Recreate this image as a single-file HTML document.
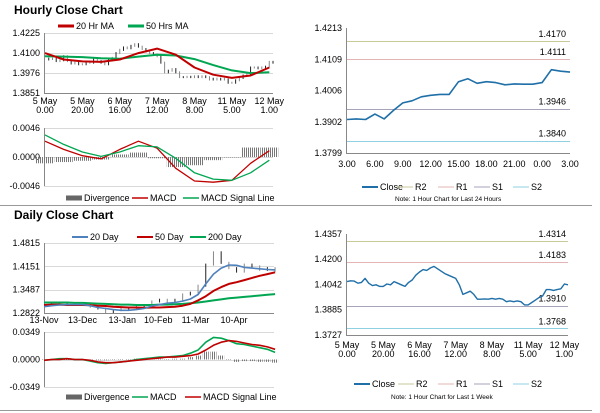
<!DOCTYPE html>
<html><head><meta charset="utf-8"><style>
html,body{margin:0;padding:0;background:#fff;}
svg{display:block;font-family:"Liberation Sans",sans-serif;}
</style></head><body>
<svg id="c" width="600" height="413" viewBox="0 0 600 413">
<defs><pattern id="hatch" width="2" height="4" patternUnits="userSpaceOnUse"><rect width="1" height="4" fill="#777"/></pattern></defs>
</svg>
<script>
// ---------- DATA ----------
const weekLabels1 = ["5 May","5 May","6 May","7 May","8 May","11 May","12 May"];
const weekLabels2 = ["0.00","20.00","16.00","12.00","8.00","5.00","1.00"];
const weekClose = [1.4060,1.4065,1.4063,1.4050,1.4055,1.4080,1.4050,1.4035,1.4040,1.4030,
 1.4030,1.4045,1.4040,1.4060,1.4050,1.4040,1.4030,1.4055,1.4070,1.4100,
 1.4120,1.4135,1.4130,1.4145,1.4155,1.4140,1.4125,1.4110,1.4100,1.4090,
 1.4080,1.4040,1.3980,1.3990,1.4000,1.3980,1.3950,1.3950,1.3952,1.3950,
 1.3955,1.3950,1.3955,1.3950,1.3935,1.3940,1.3935,1.3940,1.3935,1.3915,
 1.3915,1.3930,1.3945,1.3960,1.3970,1.4010,1.4010,1.4005,1.4010,1.4015,1.4045,1.4040];
const hrMA20 = [1.4100,1.4060,1.4048,1.4045,1.4060,1.4100,1.4128,1.4090,1.4010,1.3965,1.3945,1.3960,1.4010];
const hrMA50 = [1.4080,1.4078,1.4075,1.4068,1.4065,1.4078,1.4090,1.4085,1.4062,1.4025,1.3992,1.3975,1.3980];
const hrMacd = [0.0025,0.0012,0.0002,-0.0003,0.0012,0.0025,0.0014,-0.0018,-0.0038,-0.0040,-0.0037,-0.0010,0.0010];
const hrSignal = [0.0035,0.0020,0.0008,0.0001,0.0008,0.0018,0.0016,-0.0002,-0.0025,-0.0035,-0.0037,-0.0025,-0.0005];
const hrPriceTicks = [1.4225,1.4100,1.3976,1.3851];
const hrMacdTicks = [0.0046,0.0000,-0.0046];

const dayLabels = ["13-Nov","13-Dec","13-Jan","10-Feb","11-Mar","10-Apr"];
const dayLabelPos = [0,30,61,89,118,148];
const dayClose = [1.305,1.310,1.312,1.308,1.305,1.305,1.300,1.295,1.285,1.290,1.295,1.295,1.300,1.305,1.315,1.320,1.315,1.320,1.335,1.340,1.360,1.420,1.455,1.425,1.410,1.400,1.420,1.415,1.405,1.410,1.402];
const dayMA20 = [1.300,1.303,1.305,1.306,1.306,1.306,1.303,1.298,1.295,1.292,1.290,1.290,1.292,1.295,1.302,1.306,1.310,1.312,1.316,1.322,1.335,1.365,1.393,1.410,1.419,1.418,1.412,1.410,1.408,1.406,1.405];
const dayMA50 = [1.305,1.306,1.306,1.305,1.305,1.305,1.304,1.303,1.302,1.300,1.299,1.298,1.298,1.297,1.298,1.298,1.299,1.300,1.303,1.308,1.318,1.330,1.345,1.356,1.365,1.370,1.376,1.382,1.388,1.393,1.398];
const dayMA200 = [1.312,1.312,1.312,1.312,1.311,1.311,1.310,1.309,1.308,1.307,1.306,1.306,1.305,1.305,1.305,1.306,1.306,1.307,1.308,1.310,1.312,1.315,1.318,1.321,1.324,1.326,1.328,1.330,1.332,1.334,1.336];
const dayMacd = [-0.001,0.000,0.001,0.001,0.000,0.000,-0.002,-0.004,-0.005,-0.004,-0.003,-0.002,0.000,0.001,0.002,0.003,0.003,0.004,0.005,0.008,0.012,0.022,0.028,0.027,0.024,0.020,0.019,0.017,0.015,0.013,0.009];
const daySignal = [-0.001,0.000,0.000,0.001,0.000,0.000,-0.001,-0.003,-0.004,-0.004,-0.003,-0.002,-0.001,0.000,0.001,0.002,0.003,0.003,0.004,0.005,0.007,0.012,0.018,0.022,0.024,0.023,0.021,0.019,0.018,0.016,0.013];
const dayPriceTicks = [1.4815,1.4151,1.3487,1.2822];
const dayMacdTicks = [0.0349,0.0000,-0.0349];

const h24Labels = ["3.00","6.00","9.00","12.00","15.00","18.00","21.00","0.00","3.00"];
const h24Close = [1.3910,1.3912,1.3910,1.3928,1.3912,1.3940,1.3965,1.3972,1.3985,1.3990,1.3993,1.3993,1.4035,1.4045,1.4030,1.4035,1.4032,1.4025,1.4028,1.4027,1.4027,1.4032,1.4075,1.4070,1.4067];
const h24Ticks = [1.4213,1.4109,1.4006,1.3902,1.3799];
const h24Levels = [1.4170,1.4111,1.3946,1.3840];
const wkTicks = [1.4357,1.4200,1.4042,1.3885,1.3727];
const wkLevels = [1.4314,1.4183,1.3910,1.3768];
const levelNames = ["R2","R1","S1","S2"];
const levelColors = ["#c9c99b","#e2b4b4","#a9a2bb","#8fd0e3"];

// ---------- HELPERS ----------
const svg = document.getElementById('c');
const NS = 'http://www.w3.org/2000/svg';
function mk(tag, at, parent){const e=document.createElementNS(NS,tag);for(const k in at)e.setAttribute(k,at[k]);(parent||svg).appendChild(e);return e;}
function txt(x,y,s,size,anchor,weight,name){const t=mk('text',{x:x,y:y,'font-size':size,'text-anchor':anchor||'start','font-weight':weight||'normal',fill:'#000'});t.textContent=s;


return t;}
function lin(d0,d1,r0,r1){return v=>r0+(v-d0)/(d1-d0)*(r1-r0);}
function poly(pts,color,w,name){const p=mk('polyline',{points:pts.map(q=>q[0].toFixed(1)+','+q[1].toFixed(1)).join(' '),fill:'none',stroke:color,'stroke-width':w,'stroke-linejoin':'round'});


return p;}
function hline(x0,x1,y,color,name){const l=mk('line',{x1:x0,x2:x1,y1:y,y2:y,stroke:color,'stroke-width':1});


return l;}
function yAxis(ticks,y,x0,x1,fmt,grid,name){
 ticks.forEach(t=>{ if(grid) hline(x0,x1,Math.round(y(t))+0.5,'#d9d9d9',name+'-grid');
  txt(x0-4,y(t)+3,fmt(t),9,'end','normal',name+'-tick-label');});
 const a=mk('line',{x1:x0+0.5,x2:x0+0.5,y1:y(ticks[0]),y2:y(ticks[ticks.length-1]),stroke:'#888'});
 
 
}
function legendLine(x,y,color,label,w,len,name){const l=mk('line',{x1:x,x2:x+len,y1:y,y2:y,stroke:color,'stroke-width':w});
 
 
 txt(x+len+2,y+3,label,9,'start','normal',name+'-label');}
function candles(data,x,y,name){
 for(let i=1;i<data.length;i++){const a=y(data[i-1]),b=y(data[i]);
  const r=mk('rect',{x:x(i)-0.5,y:Math.min(a,b)-1,width:1,height:Math.abs(a-b)+2,fill:i%2?'#222':'#888'});
  
  }
}
function divergence(m,s,x,y,step,name){
 for(let i=0;i<m.length;i++){const d=m[i]-s[i];const y0=y(0),y1=y(d);
  const r=mk('rect',{x:x(i)-step/2,y:Math.min(y0,y1),width:step,height:Math.max(0.5,Math.abs(y1-y0)),fill:'url(#hatch)'});
  
  }
}
const f4=v=>v.toFixed(4);

// dividers
hline(0,592,205.5,'#999','section-divider');
hline(0,592,410.5,'#999','bottom-divider');

// ---------- HOURLY CLOSE CHART ----------
txt(14,14,'Hourly Close Chart',12,'start','bold','hourly-title');
legendLine(58,26,'#c00000','20 Hr MA',3,16,'legend-20hr-ma');
legendLine(128,26,'#00a651','50 Hrs MA',3,16,'legend-50hrs-ma');
{const x=lin(0,61,45,273), y=lin(1.4225,1.3851,33,93);
 yAxis(hrPriceTicks,y,44,273,f4,true,'hourly-price-axis');
 hline(44,273,93.5,'#888','hourly-x-axis');
 weekLabels1.forEach((l,i)=>{txt(x(i*10),104,l,9,'middle','normal','hourly-x-label');txt(x(i*10),113,weekLabels2[i],9,'middle','normal','hourly-x-label');});
 candles(weekClose,x,y,'hourly-candle');
 const xm=i=>x(i*5);
 poly(hrMA50.map((v,i)=>[xm(i),y(v)]),'#00a651',2,'hourly-50hrs-ma-line');
 poly(hrMA20.map((v,i)=>[xm(i),y(v)]),'#c00000',2,'hourly-20hr-ma-line');
 const ym=lin(0.0046,-0.0046,128,186);
 yAxis(hrMacdTicks,ym,44,273,f4,true,'hourly-macd-axis');
 divergence(hrMacd,hrSignal,xm,ym,18,'hourly-divergence-bar');
 poly(hrMacd.map((v,i)=>[xm(i),ym(v)]),'#c00000',1.3,'hourly-macd-line');
 poly(hrSignal.map((v,i)=>[xm(i),ym(v)]),'#00a651',1.3,'hourly-signal-line');
 legendLine(66,198,'#666','Divergence',5,16,'legend-hourly-divergence');
 legendLine(132,198,'#c00000','MACD',1.5,16,'legend-hourly-macd');
 legendLine(183,198,'#00a651','MACD Signal Line',1.5,16,'legend-hourly-signal');
}

// ---------- LAST 24 HOURS ----------
{const x=lin(0,24,347,570), y=lin(1.4213,1.3799,28,153);
 yAxis(h24Ticks,y,346,570,f4,false,'h24-y-axis');
 hline(346,570,153.5,'#888','h24-x-axis');
 h24Labels.forEach((l,i)=>txt(x(i*3),167,l,9,'middle','normal','h24-x-label'));
 h24Levels.forEach((v,i)=>{hline(347,570,Math.round(y(v))+0.5,levelColors[i],'h24-level-'+levelNames[i].toLowerCase());
  txt(566,y(v)-4,f4(v),9,'end','normal','h24-level-value');});
 poly(h24Close.map((v,i)=>[x(i),y(v)]),'#1f6fa8',1.6,'h24-close-line');
 const lx=[362,397,438,474,513];
 const lc=['#1f6fa8'].concat(levelColors);
 ['Close'].concat(levelNames).forEach((n,i)=>legendLine(lx[i],187,lc[i],n,i?1:2,16,'legend-h24-'+n.toLowerCase()));
 txt(395,201,'Note: 1 Hour Chart for Last 24 Hours',6.5,'start','normal','h24-note');
}

// ---------- DAILY CLOSE CHART ----------
txt(14,219,'Daily Close Chart',12,'start','bold','daily-title');
legendLine(72,237,'#4f81bd','20 Day',2,16,'legend-20-day');
legendLine(137,237,'#c00000','50 Day',2,16,'legend-50-day');
legendLine(190,237,'#00a651','200 Day',2,16,'legend-200-day');
{const xd=lin(0,148,44,234), x=i=>xd(i*6), y=lin(1.4815,1.2822,243,313);
 yAxis(dayPriceTicks,y,44,274,f4,true,'daily-price-axis');
 hline(44,274,313.5,'#888','daily-x-axis');
 dayLabels.forEach((l,i)=>txt(xd(dayLabelPos[i]),323,l,9,'middle','normal','daily-x-label'));
 candles(dayClose,x,y,'daily-candle');
 poly(dayMA200.map((v,i)=>[x(i),y(v)]),'#00a651',2,'daily-200-day-line');
 poly(dayMA50.map((v,i)=>[x(i),y(v)]),'#c00000',2,'daily-50-day-line');
 poly(dayMA20.map((v,i)=>[x(i),y(v)]),'#4f81bd',1.6,'daily-20-day-line');
 const ym=lin(0.0349,-0.0349,332,387);
 yAxis(dayMacdTicks,ym,44,274,f4,true,'daily-macd-axis');
 divergence(dayMacd,daySignal,x,ym,6,'daily-divergence-bar');
 poly(dayMacd.map((v,i)=>[x(i),ym(v)]),'#00a651',1.6,'daily-macd-line');
 poly(daySignal.map((v,i)=>[x(i),ym(v)]),'#c00000',1.6,'daily-signal-line');
 legendLine(66,397,'#666','Divergence',5,16,'legend-daily-divergence');
 legendLine(132,397,'#00a651','MACD',1.5,16,'legend-daily-macd');
 legendLine(185,397,'#c00000','MACD Signal Line',1.5,16,'legend-daily-signal');
}

// ---------- LAST 1 WEEK ----------
{const x=lin(0,61,347,568), y=lin(1.4357,1.3727,234,335);
 yAxis(wkTicks,y,346,568,f4,false,'wk-y-axis');
 hline(346,568,335.5,'#888','wk-x-axis');
 weekLabels1.forEach((l,i)=>{txt(x(i*10),348,l,9,'middle','normal','wk-x-label');txt(x(i*10),357,weekLabels2[i],9,'middle','normal','wk-x-label');});
 wkLevels.forEach((v,i)=>{hline(347,568,Math.round(y(v))+0.5,levelColors[i],'wk-level-'+levelNames[i].toLowerCase());
  txt(566,y(v)-4,f4(v),9,'end','normal','wk-level-value');});
 poly(weekClose.map((v,i)=>[x(i),y(v)]),'#1f6fa8',1.4,'wk-close-line');
 const lx=[354,398,438,474,513];
 const lc=['#1f6fa8'].concat(levelColors);
 ['Close'].concat(levelNames).forEach((n,i)=>legendLine(lx[i],384,lc[i],n,i?1:2,16,'legend-wk-'+n.toLowerCase()));
 txt(391,399,'Note: 1 Hour Chart for  Last 1 Week',6.5,'start','normal','wk-note');
}
</script>
</body></html>
